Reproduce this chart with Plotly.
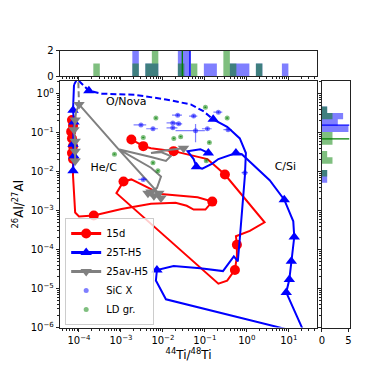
import numpy as np
import plotly.graph_objects as go

# model tracks
red_x = [6.8e-5, 7.2e-5, 6.5e-5, 6.8e-5, 7.2e-5, 6.8e-5, 7.2e-5, 7.2e-5, 7.6e-5, 8.1e-5,
         1.0e-4, 2.25e-4, 1.03e-3, 5.2e-3, 0.020, 0.037, 0.054, 0.103, 0.15, 0.067,
         0.0265, 9.0e-3, 1.77e-3, 1.15e-3, 7.8e-4, 0.21, 0.34, 0.52, 0.58, 0.58,
         0.55, 1.18, 2.65, 0.30, 0.115, 0.018, 5.2e-3, 3.4e-3, 1.77e-3]
red_y = [0.21, 0.15, 0.106, 0.071, 0.045, 0.030, 0.021, 7.9e-3, 1.9e-3, 8.9e-4,
         7.1e-4, 7.5e-4, 1.1e-3, 1.5e-3, 1.58e-3, 1.33e-3, 1.06e-3, 1.06e-3, 1.7e-3, 2.2e-3,
         2.4e-3, 2.66e-3, 6.3e-3, 5.6e-3, 2.8e-3, 1.33e-5, 1.6e-5, 3.0e-5, 6.7e-5, 1.33e-4,
         2.2e-4, 3.0e-4, 5.0e-4, 8.4e-3, 0.021, 0.0335, 0.040, 0.045, 0.067]
red_mark = [0, 1, 2, 3, 4, 5, 6, 11, 18, 23, 27, 29, 33, 35, 37, 38]

blue_left_x = [7.2e-5, 7.6e-5, 7.2e-5, 7.6e-5, 7.2e-5, 7.6e-5]
blue_left_y = [0.0106, 0.025, 0.05, 0.188, 0.376, 1.68]
blue_left_mark = [0, 1, 2, 3, 4]

blue_nova_x = [7.6e-5, 9.0e-5, 1.72e-4, 3.5e-4, 2.1e-3, 0.0118, 0.046, 0.092, 0.158]
blue_nova_y = [1.68, 2.37, 1.19, 1.0, 0.94, 0.71, 0.53, 0.355, 0.22]
blue_nova_mark = [2]

blue_csi_x = [23.2, 8.7, 10.3, 11.5, 13.5, 12.8, 7.8, 3.5, 1.8, 0.76,
              0.55, 0.34, 0.21, 0.15, 0.087, 0.063, 0.054, 0.0387, 0.078, 0.121]
blue_csi_y = [7.5e-7, 7.9e-6, 1.7e-5, 5.0e-5, 2.1e-4, 5.3e-4, 1.9e-3, 6.0e-3, 0.0119, 0.028,
              0.030, 0.025, 0.021, 0.016, 0.0119, 0.0133, 0.021, 0.0335, 0.0376, 0.030]
blue_csi_mark = [1, 2, 3, 4, 6, 10, 15, 19]

blue_loop_x = [0.158, 0.34, 0.68, 0.95, 0.90, 0.805, 0.68, 0.61, 0.49, 0.27,
               0.078, 0.018, 7.2e-3, 6.8e-3, 0.0118, 17.7]
blue_loop_y = [0.22, 0.141, 0.071, 0.030, 7.9e-3, 1.4e-3, 1.9e-4, 5.0e-5, 6.7e-5, 2.8e-5,
               3.3e-5, 3.8e-5, 3.0e-5, 1.6e-5, 5.3e-6, 7.5e-7]
blue_loop_mark = [0, 12]

gray_nova_x = [9.5e-5, 1.0e-4]
gray_nova_y = [3.35, 0.53]

gray_x = [8.1e-5, 8.1e-5, 8.1e-5, 7.6e-5, 8.1e-5, 8.5e-5, 1.0e-4, 8.7e-4, 6.8e-3, 5.2e-3,
          6.1e-3, 8.0e-3, 9.0e-3, 4.4e-3, 7.2e-3, 9.0e-3, 5.2e-3, 8.7e-4, 5.2e-3, 0.0118,
          0.0154, 9.0e-3, 5.2e-3, 0.0118, 0.031]
gray_y = [0.0188, 0.0335, 0.06, 0.119, 0.21, 0.335, 0.53, 0.0376, 3.3e-3, 3.0e-3,
          2.4e-3, 2.8e-3, 2.1e-3, 2.8e-3, 3.8e-3, 7.5e-3, 0.0126, 0.0376, 0.0237, 0.0188,
          0.025, 0.0316, 0.030, 0.0355, 0.040]
gray_mark = [0, 1, 2, 3, 4, 6, 9, 10, 11, 12, 13, 24]

# grain data
sic_x = [3.0e-3, 5.8e-3, 0.0172, 0.0238, 0.0172, 0.0225, 0.054, 0.21, 0.06, 0.115, 0.357, 0.9, 3.4e-3]
sic_y = [0.158, 0.126, 0.178, 0.168, 0.133, 0.28, 0.266, 0.335, 0.112, 0.126, 0.119, 9.4e-3, 6.3e-3]
sic_xerr = [1.0e-3, 1.8e-3, 5e-3, 5e-3, 5e-3, 6e-3, 0.012, 0.05, 0.04, 0.03, 0.08, 0.15, 8e-4]
sic_yerr = [0.012, 0.01, 0.012, 0.012, 0.01, 0.02, 0.02, 0.025, 0.055, 0.01, 0.01, 1e-3, 5e-4]

ld_x = [0.103, 6.8e-3, 0.34, 0.0182, 0.0265, 3.4e-3, 0.128, 7.0e-4, 0.108, 5.8e-3, 7.6e-3]
ld_y = [0.447, 0.237, 0.237, 0.071, 0.079, 0.075, 0.056, 0.028, 0.019, 0.0168, 0.0106]
ld_xerr = [0.006, 4e-4, 0.02, 1e-3, 1.5e-3, 2e-4, 0.008, 4e-5, 0.006, 3e-4, 4e-4]
ld_yerr = [0.02, 0.01, 0.01, 0.003, 0.003, 0.003, 0.003, 0.001, 0.001, 0.001, 0.0005]

# histograms (log10 bin edges, counts)
top_edges = np.linspace(-3.659, 0.991, 31)
top_blue = [0, 0, 0, 0, 0, 0, 2, 0, 1, 1, 0, 0, 0, 2, 2, 0, 0, 1, 1, 0, 0, 1, 1, 1, 0, 1, 0, 0, 0, 1]
top_green = [1, 0, 0, 0, 0, 0, 1, 0, 1, 2, 0, 0, 0, 1, 0, 1, 0, 0, 0, 0, 2, 1, 0, 0, 0, 1, 0, 0, 0, 0]
right_edges = np.linspace(-0.33, -2.286, 13)
right_blue = [1, 4, 3, 5, 0, 0, 0, 0, 0, 0, 1, 1]
right_green = [1, 2, 0, 0, 2, 2, 0, 1, 2, 0, 1, 0]
mean_x_blue, mean_x_green = 0.044, 0.029
mean_y_blue, mean_y_green = 0.156, 0.0695

xticks = [1e-4, 1e-3, 1e-2, 1e-1, 1, 10]
xtick_text = ['10<sup>−4</sup>', '10<sup>−3</sup>', '10<sup>−2</sup>', '10<sup>−1</sup>',
              '10<sup>0</sup>', '10<sup>1</sup>']
yticks = [1e-6, 1e-5, 1e-4, 1e-3, 1e-2, 1e-1, 1]
ytick_text = ['10<sup>−6</sup>', '10<sup>−5</sup>', '10<sup>−4</sup>', '10<sup>−3</sup>',
              '10<sup>−2</sup>', '10<sup>−1</sup>', '10<sup>0</sup>']

FONT = 'DejaVu Sans'
RED, BLUE, GRAY = 'red', 'blue', 'gray'

fig = go.Figure()


def track(xs, ys, marks, color, symbol, size, dash='solid'):
    fig.add_trace(go.Scatter(x=xs, y=ys, mode='lines', line=dict(color=color, width=2, dash=dash),
                             showlegend=False, hoverinfo='skip'))
    if marks:
        fig.add_trace(go.Scatter(x=[xs[i] for i in marks], y=[ys[i] for i in marks], mode='markers',
                                 marker=dict(color=color, symbol=symbol, size=size),
                                 showlegend=False, hoverinfo='skip'))


track(red_x, red_y, red_mark, RED, 'circle', 10)
track(blue_nova_x, blue_nova_y, blue_nova_mark, BLUE, 'triangle-up', 10, dash='6px,3px')
track(blue_left_x, blue_left_y, blue_left_mark, BLUE, 'triangle-up', 10)
track(blue_csi_x, blue_csi_y, blue_csi_mark, BLUE, 'triangle-up', 10)
track(blue_loop_x, blue_loop_y, blue_loop_mark, BLUE, 'triangle-up', 10)
track(gray_nova_x, gray_nova_y, [], GRAY, 'triangle-down', 10, dash='6px,3px')
track(gray_x, gray_y, gray_mark, GRAY, 'triangle-down', 10)

# legend entries for the tracks
for name, color, symbol in [('15d', RED, 'circle'), ('25T-H5', BLUE, 'triangle-up'),
                            ('25av-H5', GRAY, 'triangle-down')]:
    fig.add_trace(go.Scatter(x=[None], y=[None], mode='lines+markers', name=name,
                             line=dict(color=color, width=3),
                             marker=dict(color=color, symbol=symbol, size=10)))

fig.add_trace(go.Scatter(
    x=sic_x, y=sic_y, mode='markers', name='SiC X',
    marker=dict(color='rgba(0,0,255,0.5)', size=5),
    error_x=dict(type='data', array=sic_xerr, color='rgba(0,0,255,0.5)', thickness=1.2, width=0),
    error_y=dict(type='data', array=sic_yerr, color='rgba(0,0,255,0.5)', thickness=1.2, width=0)))
fig.add_trace(go.Scatter(
    x=ld_x, y=ld_y, mode='markers', name='LD gr.',
    marker=dict(color='rgba(0,128,0,0.5)', size=5),
    error_x=dict(type='data', array=ld_xerr, color='rgba(0,128,0,0.5)', thickness=1.2, width=0),
    error_y=dict(type='data', array=ld_yerr, color='rgba(0,128,0,0.5)', thickness=1.2, width=0)))

fig.add_trace(go.Scatter(x=[1.34e-3, 3.9e-4, 8.3], y=[0.6, 0.0119, 0.0126], mode='text',
                         text=['O/Nova', 'He/C', 'C/Si'], textfont=dict(size=11, color='black', family=FONT),
                         showlegend=False, hoverinfo='skip'))

# top histogram
for counts, col in [(top_blue, 'rgba(0,0,255,0.5)'), (top_green, 'rgba(0,128,0,0.5)')]:
    fig.add_trace(go.Scatter(x=10 ** top_edges, y=counts + [0], mode='lines', line_shape='hv',
                             line=dict(width=0), fill='tozeroy', fillcolor=col,
                             xaxis='x2', yaxis='y2', showlegend=False, hoverinfo='skip'))
for m, col in [(mean_x_green, 'green'), (mean_x_blue, 'blue')]:
    fig.add_trace(go.Scatter(x=[m, m], y=[0, 2], mode='lines', line=dict(color=col, width=1.3),
                             xaxis='x2', yaxis='y2', showlegend=False, hoverinfo='skip'))

# right histogram
for counts, col in [(right_blue, 'rgba(0,0,255,0.5)'), (right_green, 'rgba(0,128,0,0.5)')]:
    fig.add_trace(go.Scatter(x=counts + [0], y=10 ** right_edges, mode='lines', line_shape='vh',
                             line=dict(width=0), fill='tozerox', fillcolor=col,
                             xaxis='x3', yaxis='y3', showlegend=False, hoverinfo='skip'))
for m, col in [(mean_y_blue, 'blue'), (mean_y_green, 'green')]:
    fig.add_trace(go.Scatter(x=[0, 5.2], y=[m, m], mode='lines', line=dict(color=col, width=1.3),
                             xaxis='x3', yaxis='y3', showlegend=False, hoverinfo='skip'))

frame = dict(showline=True, linecolor='#222', linewidth=1, mirror=True, showgrid=False,
             zeroline=False, ticks='outside', ticklen=3.5, tickcolor='#222',
             tickfont=dict(size=10, family=FONT, color='black'))
minor = dict(ticks='outside', ticklen=2, dtick='D1', tickcolor='#222', showgrid=False)
XR = [-4.447, 1.671]
YR = [-6.0, 0.325]

fig.update_layout(
    width=390, height=390,
    margin=dict(l=0, r=0, t=0, b=0),
    paper_bgcolor='white', plot_bgcolor='white',
    font=dict(family=FONT, color='black'),
    xaxis=dict(frame, type='log', range=XR, domain=[0.1487, 0.8154], anchor='y',
               tickmode='array', tickvals=xticks, ticktext=xtick_text, minor=minor,
               title=dict(text='<sup>44</sup>Ti/<sup>48</sup>Ti', font=dict(size=12), standoff=4)),
    yaxis=dict(frame, type='log', range=YR, domain=[0.1513, 0.8], anchor='x',
               tickmode='array', tickvals=yticks, ticktext=ytick_text, minor=minor,
               title=dict(text='<sup>26</sup>Al/<sup>27</sup>Al', font=dict(size=12), standoff=4)),
    xaxis2=dict(frame, type='log', range=XR, domain=[0.1487, 0.8154], anchor='y2',
                tickmode='array', tickvals=xticks, showticklabels=False, minor=minor),
    yaxis2=dict(frame, range=[0, 2], domain=[0.8128, 0.8795], anchor='x2',
                tickmode='array', tickvals=[0, 2]),
    xaxis3=dict(frame, range=[0, 5.2], domain=[0.8282, 0.9], anchor='y3',
                tickmode='array', tickvals=[0, 5]),
    yaxis3=dict(frame, type='log', range=YR, domain=[0.1513, 0.8], anchor='x3',
                tickmode='array', tickvals=yticks, showticklabels=False, minor=minor),
    legend=dict(x=0.1615, y=0.158, xanchor='left', yanchor='bottom',
                bgcolor='rgba(255,255,255,0.8)', bordercolor='#cccccc', borderwidth=1,
                font=dict(size=10, family=FONT), itemwidth=30, tracegroupgap=0),
)

fig.write_html('out.html', config={'displayModeBar': False},
               post_script="document.body.style.margin = '0';")
